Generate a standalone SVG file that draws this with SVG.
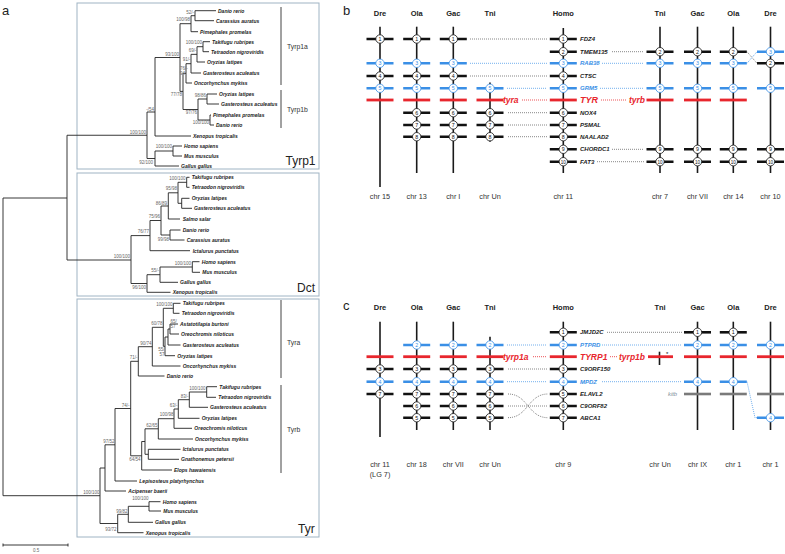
<svg xmlns="http://www.w3.org/2000/svg" width="785" height="554" viewBox="0 0 785 554">
<style>
text{font-family:"Liberation Sans",Arial,sans-serif}
.br{stroke:#222;stroke-width:0.9;fill:none}
.box{fill:none;stroke:#9fb4c4;stroke-width:1}
.sp{font-size:5px;font-weight:bold;font-style:italic;fill:#222}
.bs{font-size:4.5px;fill:#666;text-anchor:end}
.bss{font-size:4.5px;fill:#666}
.cl{font-size:6.8px;fill:#333}
.big{font-size:12px;fill:#222}
.cbar{stroke:#444;stroke-width:1}
.pl{font-size:13px;fill:#222}
.hd{font-size:7.5px;font-weight:bold;fill:#222;text-anchor:middle}
.chl{font-size:7.3px;fill:#333;text-anchor:middle}
.ch{stroke:#1a1a1a;stroke-width:1.6}
.kb{stroke:#111;stroke-width:2.6}
.bb{stroke:#3a8fe6;stroke-width:2.6}
.rb{stroke:#e8262d;stroke-width:2.8}
.gb{stroke:#7a7a7a;stroke-width:2.6}
.ck{fill:#fff;stroke:#111;stroke-width:0.8}
.cb{fill:#fff;stroke:#3a8fe6;stroke-width:0.8}
.nk{font-size:5.3px;fill:#111;text-anchor:middle}
.nb{font-size:5.3px;fill:#3a8fe6;text-anchor:middle}
.gk{font-size:6px;font-weight:bold;font-style:italic;fill:#222}
.gbl{font-size:6px;font-weight:bold;font-style:italic;fill:#3a8fe6}
.gr{font-size:8.5px;font-weight:bold;font-style:italic;fill:#e8262d}
.dk{stroke:#555;stroke-width:0.8;stroke-dasharray:0.9 1.1;fill:none}
.db{stroke:#3a8fe6;stroke-width:0.8;stroke-dasharray:0.9 1.1;fill:none}
.dr{stroke:#e8262d;stroke-width:0.9;stroke-dasharray:0.9 1.1;fill:none}
</style>

<!-- Panel a -->
<text class="pl" x="2" y="15">a</text>
<g id="boxes">
<rect class="box" x="77" y="3" width="242" height="166"/>
<rect class="box" x="77" y="173" width="242" height="123"/>
<rect class="box" x="77" y="299" width="242" height="238"/>
</g>

<g id="tree-root">
<path class="br" d="M3 198V495.7M3 198H67M67 135.25V260M67 135.25H147M67 260H131M3 495.7H100"/>
</g>

<g id="tree-tyrp1">
<path class="br" d="M147 112V158.5M147 112H155M155 57.5V136M155 57.5H180M155 136H191
M180 23.7V91.4M180 23.7H191M180 91.4H183
M191 15.7V31.7M191 15.7H195M191 31.7H198
M195 10.7V20.7M195 10.7H216M195 20.7H214
M183 73.3V109.5M183 73.3H186M183 109.5H198
M186 63.7V83M186 63.7H191M186 83H192
M191 54.35V73M191 54.35H197M191 73H201
M197 46.7V62M197 46.7H203M197 62H205
M203 41.7V51.7M203 41.7H210M203 51.7H209
M198 99V120M198 99H207M198 120H210
M207 94V104M207 94H217M207 104H219
M210 115V125M210 115H211M210 125H214
M147 158.5H155M155 151V166M155 151H173M155 166H179
M173 146V156M173 146H182M173 156H182"/>
<text class="sp" x="218" y="12.5">Danio rerio</text>
<text class="sp" x="216" y="22.5">Carassius auratus</text>
<text class="sp" x="200" y="33.5">Pimephales promelas</text>
<text class="sp" x="212" y="43.5">Takifugu rubripes</text>
<text class="sp" x="211" y="53.5">Tetraodon nigroviridis</text>
<text class="sp" x="207" y="63.8">Oryzias latipes</text>
<text class="sp" x="203" y="74.8">Gasterosteus aculeatus</text>
<text class="sp" x="194" y="84.8">Oncorhynchus mykiss</text>
<text class="sp" x="219" y="95.8">Oryzias latipes</text>
<text class="sp" x="221" y="105.8">Gasterosteus aculeatus</text>
<text class="sp" x="213" y="116.8">Pimephales promelas</text>
<text class="sp" x="216" y="126.8">Danio rerio</text>
<text class="sp" x="193" y="137.8">Xenopus tropicalis</text>
<text class="sp" x="184" y="147.8">Homo sapiens</text>
<text class="sp" x="184" y="157.8">Mus musculus</text>
<text class="sp" x="181" y="167.8">Gallus gallus</text>
<text class="bs" x="194" y="13.5">52/-</text>
<text class="bs" x="190" y="21">100/98</text>
<text class="bs" x="202" y="44">100/100</text>
<text class="bs" x="196.5" y="52">69/-</text>
<text class="bs" x="190.5" y="61">91/-</text>
<text class="bss" x="180" y="69.5">76/-</text>
<text class="bss" x="180" y="75">94</text>
<text class="bs" x="179" y="55.5">93/100</text>
<text class="bs" x="182" y="96">77/78</text>
<text class="bs" x="206" y="97">98/86</text>
<text class="bs" x="197" y="114">97/76</text>
<text class="bs" x="209" y="124">100/100</text>
<text class="bs" x="154" y="110.5">-/54</text>
<text class="bs" x="172" y="148">100/100</text>
<text class="bs" x="153" y="164">92/100</text>
<text class="bs" x="146" y="133.5">100/100</text>
<path class="cbar" d="M281 7V85M281 90V128"/>
<text class="cl" x="287" y="49">Tyrp1a</text>
<text class="cl" x="287" y="112">Tyrp1b</text>
<text class="big" x="285.5" y="165">Tyrp1</text>
</g>

<g id="tree-dct">
<path class="br" d="M131 235.6V283.5M131 235.6H150M131 283.5H147
M150 220.5V250.7M150 220.5H161M150 250.7H190
M161 206V235M161 206H168.3M161 235H170
M168.3 192.8V219M168.3 192.8H178M168.3 219H180
M178 182.3V203.3M178 182.3H186.7M178 203.3H181.7
M186.7 177.3V187.3M186.7 177.3H189.5M186.7 187.3H189.5
M181.7 198.3V208.3M181.7 198.3H189.5M181.7 208.3H192
M170 230V240M170 230H180.5M170 240H184.5
M147 274.7V292.3M147 274.7H160M147 292.3H170.5
M160 267V282.3M160 267H192.3M160 282.3H178
M192.3 261.7V272.3M192.3 261.7H199.5M192.3 272.3H200"/>
<text class="sp" x="191.7" y="179.1">Takifugu rubripes</text>
<text class="sp" x="191.7" y="189.1">Tetraodon nigroviridis</text>
<text class="sp" x="191.7" y="200.1">Oryzias latipes</text>
<text class="sp" x="194" y="210.1">Gasterosteus aculeatus</text>
<text class="sp" x="182.7" y="220.8">Salmo salar</text>
<text class="sp" x="182.7" y="231.8">Danio rerio</text>
<text class="sp" x="186.7" y="241.8">Carassius auratus</text>
<text class="sp" x="192.7" y="252.5">Ictalurus punctatus</text>
<text class="sp" x="201.7" y="263.5">Homo sapiens</text>
<text class="sp" x="202.3" y="274.1">Mus musculus</text>
<text class="sp" x="180" y="284.1">Gallus gallus</text>
<text class="sp" x="172.7" y="294.1">Xenopus tropicalis</text>
<text class="bs" x="185.5" y="180">100/100</text>
<text class="bs" x="177" y="190">95/98</text>
<text class="bs" x="167" y="204.5">86/89</text>
<text class="bs" x="160" y="218">75/96</text>
<text class="bs" x="169" y="241">99/98</text>
<text class="bs" x="149" y="233">76/77</text>
<text class="bs" x="130" y="257.5">100/100</text>
<text class="bs" x="159" y="272">55/-</text>
<text class="bs" x="191" y="264.5">100/100</text>
<text class="bs" x="146" y="289">96/100</text>
<text class="big" x="297" y="292">Dct</text>
</g>

<g id="tree-tyr">
<path class="br" d="M100 468V523.5M100 468H105M100 523.5H117.7
M105 444.8V491M105 444.8H115M105 491H126
M115 408.5V481M115 408.5H130.7M115 481H137
M130.7 361.3V455.8M130.7 361.3H138.3M130.7 455.8H141.7
M138.3 346.7V376M138.3 346.7H152.3M138.3 376H164.5
M152.3 327.3V366M152.3 327.3H163.3M152.3 366H180.5
M163.3 308.3V346.3M163.3 308.3H173.3M163.3 346.3H165
M165 337V355.7M165 337H168M165 355.7H175
M168 329V345M168 329H170M168 345H180.5
M170 324V334M170 324H178M170 334H179
M173.3 303.3V313.3M173.3 303.3H180.5M173.3 313.3H179.5
M141.7 441.5V470M141.7 441.5H145M141.7 470H172
M145 428.8V454.3M145 428.8H158.3M145 454.3H148.3
M148.3 449.3V459.3M148.3 449.3H180.5M148.3 459.3H179
M158.3 418.7V439M158.3 418.7H174M158.3 439H193
M174 409V428.3M174 409H178.3M174 428.3H192
M178.3 399.7V418.3M178.3 399.7H189.3M178.3 418.3H199.5
M189.3 392V407.3M189.3 392H206.7M189.3 407.3H208
M206.7 386.7V397.3M206.7 386.7H217M206.7 397.3H216
M117.7 514.3V532.7M117.7 514.3H128.3M117.7 532.7H143.5
M128.3 506.3V522.3M128.3 506.3H149M128.3 522.3H153
M149 501.7V511M149 501.7H160.5M149 511H161"/>
<text class="sp" x="182.7" y="305.1">Takifugu rubripes</text>
<text class="sp" x="181.7" y="315.1">Tetraodon nigroviridis</text>
<text class="sp" x="180" y="325.8">Astatotilapia burtoni</text>
<text class="sp" x="181" y="335.8">Oreochromis niloticus</text>
<text class="sp" x="182.7" y="346.8">Gasterosteus aculeatus</text>
<text class="sp" x="177.3" y="357.5">Oryzias latipes</text>
<text class="sp" x="182.7" y="367.8">Oncorhynchus mykiss</text>
<text class="sp" x="166.7" y="377.8">Danio rerio</text>
<text class="sp" x="219.3" y="388.5">Takifugu rubripes</text>
<text class="sp" x="218.3" y="399.1">Tetraodon nigroviridis</text>
<text class="sp" x="210" y="409.1">Gasterosteus aculeatus</text>
<text class="sp" x="201.7" y="420.1">Oryzias latipes</text>
<text class="sp" x="194.3" y="430.1">Oreochromis niloticus</text>
<text class="sp" x="195" y="440.8">Oncorhynchus mykiss</text>
<text class="sp" x="182.7" y="451.1">Ictalurus punctatus</text>
<text class="sp" x="181" y="461.1">Gnathonemus petersii</text>
<text class="sp" x="174" y="471.8">Elops hawaiensis</text>
<text class="sp" x="139.3" y="482.8">Lepisosteus platyrhynchus</text>
<text class="sp" x="128.3" y="492.8">Acipenser baerii</text>
<text class="sp" x="162.7" y="503.5">Homo sapiens</text>
<text class="sp" x="163.3" y="512.8">Mus musculus</text>
<text class="sp" x="155" y="524.1">Gallus gallus</text>
<text class="sp" x="145.7" y="534.5">Xenopus tropicalis</text>
<text class="bs" x="172.5" y="305.5">100/100</text>
<text class="bss" x="170.5" y="322.8">65/</text>
<text class="bss" x="170.5" y="328.3">57</text>
<text class="bs" x="162.5" y="325">60/78</text>
<text class="bs" x="164.5" y="350.5">55/</text>
<text class="bs" x="164.5" y="355.5">57</text>
<text class="bs" x="151.5" y="344.5">90/74</text>
<text class="bs" x="137.5" y="358.5">71/-</text>
<text class="bs" x="129.5" y="406.5">74/-</text>
<text class="bs" x="205.5" y="390">100/100</text>
<text class="bs" x="188.5" y="398">83/-</text>
<text class="bs" x="177.5" y="406.5">63/-</text>
<text class="bs" x="173.5" y="415.5">100/98</text>
<text class="bs" x="157.5" y="427">62/65</text>
<text class="bs" x="140.5" y="461">64/54</text>
<text class="bs" x="114.5" y="442.5">97/52</text>
<text class="bs" x="99.5" y="494">100/100</text>
<text class="bs" x="127.5" y="512.5">99/82</text>
<text class="bs" x="148.5" y="500">100/100</text>
<text class="bs" x="116.5" y="530.5">93/72</text>
<path class="cbar" d="M281 300V378M281 385V473"/>
<text class="cl" x="287" y="345">Tyra</text>
<text class="cl" x="287" y="432">Tyrb</text>
<text class="big" x="298" y="533">Tyr</text>
</g>

<g id="scale">
<path class="br" d="M3 545H68M3 543.5V546.5M68 543.5V546.5"/>
<text class="bss" x="33" y="552">0.5</text>
</g>

<!-- Panel b -->
<text class="pl" x="343" y="15">b</text>
<g id="b-headers">
<text class="hd" x="380" y="16">Dre</text>
<text class="hd" x="416.7" y="16">Ola</text>
<text class="hd" x="453.3" y="16">Gac</text>
<text class="hd" x="490" y="16">Tni</text>
<text class="hd" x="563.3" y="16">Homo</text>
<text class="hd" x="660" y="16">Tni</text>
<text class="hd" x="697.5" y="16">Gac</text>
<text class="hd" x="733.3" y="16">Ola</text>
<text class="hd" x="770.5" y="16">Dre</text>
</g>

<g id="b-connectors">
<path class="dk" d="M470 39H547M470 76H547M508 112.7H547M508 125H547M508 136.7H547M612 51.7H644M612 149.3H644M597 161.7H644M747 51.7L757 63.3"/>
<path class="db" d="M470 63.3H547M602 63.3H644M507 88.3H547M600 88.3H644M747 63.3L757 51.7"/>
<path class="dr" d="M522 100H547M601 100H626"/>
</g>

<g id="b-dre15">
<path class="ch" d="M380 26.7V187"/>
<path class="kb" d="M366.5 39H393.5M366.5 76H393.5"/>
<path class="bb" d="M366.5 63.3H393.5M366.5 88.3H393.5"/>
<path class="rb" d="M366.5 100H393.5"/>
<circle class="ck" cx="380" cy="39" r="4.2"/><text class="nk" x="380" y="40.95">1</text>
<circle class="cb" cx="380" cy="63.3" r="4.2"/><text class="nb" x="380" y="65.25">3</text>
<circle class="ck" cx="380" cy="76" r="4.2"/><text class="nk" x="380" y="77.95">4</text>
<circle class="cb" cx="380" cy="88.3" r="4.2"/><text class="nb" x="380" y="90.25">5</text>
<text class="chl" x="380" y="199">chr 15</text>
</g>

<g id="b-ola13">
<path class="ch" d="M416.7 26.7V173"/>
<path class="kb" d="M403.2 39H430.2M403.2 76H430.2M403.2 112.7H430.2M403.2 125H430.2M403.2 136.7H430.2"/>
<path class="bb" d="M403.2 63.3H430.2M403.2 88.3H430.2"/>
<path class="rb" d="M403.2 100H430.2"/>
<circle class="ck" cx="416.7" cy="39" r="4.2"/><text class="nk" x="416.7" y="40.95">1</text>
<circle class="cb" cx="416.7" cy="63.3" r="4.2"/><text class="nb" x="416.7" y="65.25">3</text>
<circle class="ck" cx="416.7" cy="76" r="4.2"/><text class="nk" x="416.7" y="77.95">4</text>
<circle class="cb" cx="416.7" cy="88.3" r="4.2"/><text class="nb" x="416.7" y="90.25">5</text>
<circle class="ck" cx="416.7" cy="112.7" r="4.2"/><text class="nk" x="416.7" y="114.65">6</text>
<circle class="ck" cx="416.7" cy="125" r="4.2"/><text class="nk" x="416.7" y="126.95">7</text>
<circle class="ck" cx="416.7" cy="136.7" r="4.2"/><text class="nk" x="416.7" y="138.65">8</text>
<text class="chl" x="416.7" y="199">chr 13</text>
</g>

<g id="b-gacI">
<path class="ch" d="M453.3 26.7V173"/>
<path class="kb" d="M439.8 39H466.8M439.8 76H466.8M439.8 112.7H466.8M439.8 125H466.8M439.8 136.7H466.8"/>
<path class="bb" d="M439.8 63.3H466.8M439.8 88.3H466.8"/>
<path class="rb" d="M439.8 100H466.8"/>
<circle class="ck" cx="453.3" cy="39" r="4.2"/><text class="nk" x="453.3" y="40.95">1</text>
<circle class="cb" cx="453.3" cy="63.3" r="4.2"/><text class="nb" x="453.3" y="65.25">3</text>
<circle class="ck" cx="453.3" cy="76" r="4.2"/><text class="nk" x="453.3" y="77.95">4</text>
<circle class="cb" cx="453.3" cy="88.3" r="4.2"/><text class="nb" x="453.3" y="90.25">5</text>
<circle class="ck" cx="453.3" cy="112.7" r="4.2"/><text class="nk" x="453.3" y="114.65">6</text>
<circle class="ck" cx="453.3" cy="125" r="4.2"/><text class="nk" x="453.3" y="126.95">7</text>
<circle class="ck" cx="453.3" cy="136.7" r="4.2"/><text class="nk" x="453.3" y="138.65">8</text>
<text class="chl" x="453.3" y="199">chr I</text>
</g>

<g id="b-tniUn">
<path class="ch" d="M490 82.5V141.7"/>
<path class="kb" d="M476.5 112.7H503.5M476.5 125H503.5M476.5 136.7H503.5"/>
<path class="bb" d="M476.5 88.3H503.5"/>
<path class="rb" d="M476.5 100H503.5"/>
<circle class="cb" cx="490" cy="88.3" r="4.2"/><text class="nb" x="490" y="90.25">5</text>
<circle class="ck" cx="490" cy="112.7" r="4.2"/><text class="nk" x="490" y="114.65">6</text>
<circle class="ck" cx="490" cy="125" r="4.2"/><text class="nk" x="490" y="126.95">7</text>
<circle class="ck" cx="490" cy="136.7" r="4.2"/><text class="nk" x="490" y="138.65">8</text>
<text class="gr" x="503" y="103">tyra</text>
<text class="chl" x="490" y="199">chr Un</text>
</g>

<g id="b-homo11">
<path class="ch" d="M563.3 28V173"/>
<path class="kb" d="M549.8 39H576.8M549.8 51.7H576.8M549.8 76H576.8M549.8 112.7H576.8M549.8 125H576.8M549.8 136.7H576.8M549.8 149.3H576.8M549.8 161.7H576.8"/>
<path class="bb" d="M549.8 63.3H576.8M549.8 88.3H576.8"/>
<path class="rb" d="M549.8 100H576.8"/>
<circle class="ck" cx="563.3" cy="39" r="4.2"/><text class="nk" x="563.3" y="40.95">1</text>
<circle class="ck" cx="563.3" cy="51.7" r="4.2"/><text class="nk" x="563.3" y="53.65">2</text>
<circle class="cb" cx="563.3" cy="63.3" r="4.2"/><text class="nb" x="563.3" y="65.25">3</text>
<circle class="ck" cx="563.3" cy="76" r="4.2"/><text class="nk" x="563.3" y="77.95">4</text>
<circle class="cb" cx="563.3" cy="88.3" r="4.2"/><text class="nb" x="563.3" y="90.25">5</text>
<circle class="ck" cx="563.3" cy="112.7" r="4.2"/><text class="nk" x="563.3" y="114.65">6</text>
<circle class="ck" cx="563.3" cy="125" r="4.2"/><text class="nk" x="563.3" y="126.95">7</text>
<circle class="ck" cx="563.3" cy="136.7" r="4.2"/><text class="nk" x="563.3" y="138.65">8</text>
<circle class="ck" cx="563.3" cy="149.3" r="4.2"/><text class="nk" x="563.3" y="151.25">9</text>
<circle class="ck" cx="563.3" cy="161.7" r="4.2"/><text class="nk" x="563.3" y="163.5" style="font-size:4.6px">10</text>
<text class="gk" x="580" y="41.1">FDZ4</text>
<text class="gk" x="580" y="53.8">TMEM135</text>
<text class="gbl" x="580" y="65.4">RAB38</text>
<text class="gk" x="580" y="78.1">CTSC</text>
<text class="gbl" x="580" y="90.4">GRM5</text>
<text class="gr" x="580" y="103.2" style="font-size:9px">TYR</text>
<text class="gk" x="580" y="114.8">NOX4</text>
<text class="gk" x="580" y="127.1">PSMAL</text>
<text class="gk" x="580" y="138.8">NAALAD2</text>
<text class="gk" x="580" y="151.4">CHORDC1</text>
<text class="gk" x="580" y="163.8">FAT3</text>
<text class="gr" x="645" y="103" text-anchor="end">tyrb</text>
<text class="chl" x="563.3" y="199">chr 11</text>
</g>

<g id="b-tni7">
<path class="ch" d="M660 26.7V173"/>
<path class="kb" d="M646.5 51.7H673.5M646.5 149.3H673.5M646.5 161.7H673.5"/>
<path class="bb" d="M646.5 63.3H673.5M646.5 88.3H673.5"/>
<path class="rb" d="M646.5 100H673.5"/>
<circle class="ck" cx="660" cy="51.7" r="4.2"/><text class="nk" x="660" y="53.65">2</text>
<circle class="cb" cx="660" cy="63.3" r="4.2"/><text class="nb" x="660" y="65.25">3</text>
<circle class="cb" cx="660" cy="88.3" r="4.2"/><text class="nb" x="660" y="90.25">5</text>
<circle class="ck" cx="660" cy="149.3" r="4.2"/><text class="nk" x="660" y="151.25">9</text>
<circle class="ck" cx="660" cy="161.7" r="4.2"/><text class="nk" x="660" y="163.5" style="font-size:4.6px">10</text>
<text class="chl" x="660" y="199">chr 7</text>
</g>

<g id="b-gacVII">
<path class="ch" d="M697.5 26.7V173"/>
<path class="kb" d="M684 51.7H711M684 149.3H711M684 161.7H711"/>
<path class="bb" d="M684 63.3H711M684 88.3H711"/>
<path class="rb" d="M684 100H711"/>
<circle class="ck" cx="697.5" cy="51.7" r="4.2"/><text class="nk" x="697.5" y="53.65">2</text>
<circle class="cb" cx="697.5" cy="63.3" r="4.2"/><text class="nb" x="697.5" y="65.25">3</text>
<circle class="cb" cx="697.5" cy="88.3" r="4.2"/><text class="nb" x="697.5" y="90.25">5</text>
<circle class="ck" cx="697.5" cy="149.3" r="4.2"/><text class="nk" x="697.5" y="151.25">9</text>
<circle class="ck" cx="697.5" cy="161.7" r="4.2"/><text class="nk" x="697.5" y="163.5" style="font-size:4.6px">10</text>
<text class="chl" x="697.5" y="199">chr VII</text>
</g>

<g id="b-ola14">
<path class="ch" d="M733.3 26.7V173"/>
<path class="kb" d="M719.8 51.7H746.8M719.8 149.3H746.8M719.8 161.7H746.8"/>
<path class="bb" d="M719.8 63.3H746.8M719.8 88.3H746.8"/>
<path class="rb" d="M719.8 100H746.8"/>
<circle class="ck" cx="733.3" cy="51.7" r="4.2"/><text class="nk" x="733.3" y="53.65">2</text>
<circle class="cb" cx="733.3" cy="63.3" r="4.2"/><text class="nb" x="733.3" y="65.25">3</text>
<circle class="cb" cx="733.3" cy="88.3" r="4.2"/><text class="nb" x="733.3" y="90.25">5</text>
<circle class="ck" cx="733.3" cy="149.3" r="4.2"/><text class="nk" x="733.3" y="151.25">9</text>
<circle class="ck" cx="733.3" cy="161.7" r="4.2"/><text class="nk" x="733.3" y="163.5" style="font-size:4.6px">10</text>
<text class="chl" x="733.3" y="199">chr 14</text>
</g>

<g id="b-dre10">
<path class="ch" d="M770.5 26.7V173"/>
<path class="kb" d="M757 63.3H784M757 149.3H784M757 161.7H784"/>
<path class="bb" d="M757 51.7H784M757 88.3H784"/>
<circle class="cb" cx="770.5" cy="51.7" r="4.2"/><text class="nb" x="770.5" y="53.65">3</text>
<circle class="ck" cx="770.5" cy="63.3" r="4.2"/><text class="nk" x="770.5" y="65.25">2</text>
<circle class="cb" cx="770.5" cy="88.3" r="4.2"/><text class="nb" x="770.5" y="90.25">5</text>
<circle class="ck" cx="770.5" cy="149.3" r="4.2"/><text class="nk" x="770.5" y="151.25">9</text>
<circle class="ck" cx="770.5" cy="161.7" r="4.2"/><text class="nk" x="770.5" y="163.5" style="font-size:4.6px">10</text>
<text class="chl" x="770.5" y="199">chr 10</text>
</g>

<!-- Panel c -->
<text class="pl" x="343" y="309.5">c</text>
<g id="c-headers">
<text class="hd" x="380" y="310">Dre</text>
<text class="hd" x="416.7" y="310">Ola</text>
<text class="hd" x="453.3" y="310">Gac</text>
<text class="hd" x="490" y="310">Tni</text>
<text class="hd" x="563.3" y="310">Homo</text>
<text class="hd" x="660" y="310">Tni</text>
<text class="hd" x="697.5" y="310">Gac</text>
<text class="hd" x="733.3" y="310">Ola</text>
<text class="hd" x="770.5" y="310">Dre</text>
</g>

<g id="c-connectors">
<path class="dk" d="M607 332.3H682M508 369H547M508 394C528 394 528 417.7 548 417.7M508 406H548M508 417.7C528 417.7 528 394 548 394"/>
<path class="db" d="M507 345H547M602 345H682M507 381.7H547M602 381.7H682M747 381.7L755 417.7H757"/>
<path class="dr" d="M533 356.7H547M610 356.7H617"/>
</g>

<g id="c-dre11">
<path class="ch" d="M380 321.7V437"/>
<path class="rb" d="M366.5 356.7H393.5"/>
<path class="kb" d="M366.5 369H393.5M366.5 394H393.5"/>
<path class="bb" d="M366.5 381.7H393.5"/>
<circle class="ck" cx="380" cy="369" r="4.2"/><text class="nk" x="380" y="370.95">3</text>
<circle class="cb" cx="380" cy="381.7" r="4.2"/><text class="nb" x="380" y="383.65">4</text>
<circle class="ck" cx="380" cy="394" r="4.2"/><text class="nk" x="380" y="395.95">7</text>
<text class="chl" x="380" y="467">chr 11</text>
<text class="chl" x="380" y="477">(LG 7)</text>
</g>

<g id="c-ola18">
<path class="ch" d="M416.7 321.7V430"/>
<path class="bb" d="M403.2 345H430.2M403.2 381.7H430.2"/>
<path class="rb" d="M403.2 356.7H430.2"/>
<path class="kb" d="M403.2 369H430.2M403.2 394H430.2M403.2 406H430.2M403.2 417.7H430.2"/>
<circle class="cb" cx="416.7" cy="345" r="4.2"/><text class="nb" x="416.7" y="346.95">2</text>
<circle class="ck" cx="416.7" cy="369" r="4.2"/><text class="nk" x="416.7" y="370.95">3</text>
<circle class="cb" cx="416.7" cy="381.7" r="4.2"/><text class="nb" x="416.7" y="383.65">4</text>
<circle class="ck" cx="416.7" cy="394" r="4.2"/><text class="nk" x="416.7" y="395.95">7</text>
<circle class="ck" cx="416.7" cy="406" r="4.2"/><text class="nk" x="416.7" y="407.95">6</text>
<circle class="ck" cx="416.7" cy="417.7" r="4.2"/><text class="nk" x="416.7" y="419.65">5</text>
<text class="chl" x="416.7" y="467">chr 18</text>
</g>

<g id="c-gacVII">
<path class="ch" d="M453.3 321.7V430"/>
<path class="bb" d="M439.8 345H466.8M439.8 381.7H466.8"/>
<path class="rb" d="M439.8 356.7H466.8"/>
<path class="kb" d="M439.8 369H466.8M439.8 394H466.8M439.8 406H466.8M439.8 417.7H466.8"/>
<circle class="cb" cx="453.3" cy="345" r="4.2"/><text class="nb" x="453.3" y="346.95">2</text>
<circle class="ck" cx="453.3" cy="369" r="4.2"/><text class="nk" x="453.3" y="370.95">3</text>
<circle class="cb" cx="453.3" cy="381.7" r="4.2"/><text class="nb" x="453.3" y="383.65">4</text>
<circle class="ck" cx="453.3" cy="394" r="4.2"/><text class="nk" x="453.3" y="395.95">7</text>
<circle class="ck" cx="453.3" cy="406" r="4.2"/><text class="nk" x="453.3" y="407.95">6</text>
<circle class="ck" cx="453.3" cy="417.7" r="4.2"/><text class="nk" x="453.3" y="419.65">5</text>
<text class="chl" x="453.3" y="467">chr VII</text>
</g>

<g id="c-tniUn">
<path class="ch" d="M490 336.7V430"/>
<path class="bb" d="M476.5 345H503.5M476.5 381.7H503.5"/>
<path class="rb" d="M476.5 356.7H503.5"/>
<path class="kb" d="M476.5 369H503.5M476.5 394H503.5M476.5 406H503.5M476.5 417.7H503.5"/>
<circle class="cb" cx="490" cy="345" r="4.2"/><text class="nb" x="490" y="346.95">2</text>
<circle class="ck" cx="490" cy="369" r="4.2"/><text class="nk" x="490" y="370.95">3</text>
<circle class="cb" cx="490" cy="381.7" r="4.2"/><text class="nb" x="490" y="383.65">4</text>
<circle class="ck" cx="490" cy="394" r="4.2"/><text class="nk" x="490" y="395.95">7</text>
<circle class="ck" cx="490" cy="406" r="4.2"/><text class="nk" x="490" y="407.95">6</text>
<circle class="ck" cx="490" cy="417.7" r="4.2"/><text class="nk" x="490" y="419.65">5</text>
<text class="gr" x="503" y="359.7">tyrp1a</text>
<text class="chl" x="490" y="467">chr Un</text>
</g>

<g id="c-homo9">
<path class="ch" d="M563.3 321.7V430"/>
<path class="bb" d="M549.8 345H576.8M549.8 381.7H576.8"/>
<path class="rb" d="M549.8 356.7H576.8"/>
<path class="kb" d="M549.8 332.3H576.8M549.8 369H576.8M549.8 394H576.8M549.8 406H576.8M549.8 417.7H576.8"/>
<circle class="ck" cx="563.3" cy="332.3" r="4.2"/><text class="nk" x="563.3" y="334.25">1</text>
<circle class="cb" cx="563.3" cy="345" r="4.2"/><text class="nb" x="563.3" y="346.95">2</text>
<circle class="ck" cx="563.3" cy="369" r="4.2"/><text class="nk" x="563.3" y="370.95">3</text>
<circle class="cb" cx="563.3" cy="381.7" r="4.2"/><text class="nb" x="563.3" y="383.65">4</text>
<circle class="ck" cx="563.3" cy="394" r="4.2"/><text class="nk" x="563.3" y="395.95">5</text>
<circle class="ck" cx="563.3" cy="406" r="4.2"/><text class="nk" x="563.3" y="407.95">6</text>
<circle class="ck" cx="563.3" cy="417.7" r="4.2"/><text class="nk" x="563.3" y="419.65">7</text>
<text class="gk" x="580" y="334.4">JMJD2C</text>
<text class="gbl" x="580" y="347.1">PTPRD</text>
<text class="gr" x="580" y="359.7">TYRP1</text>
<text class="gk" x="580" y="371.1">C9ORF150</text>
<text class="gbl" x="580" y="383.8">MPDZ</text>
<text class="gk" x="580" y="396.1">ELAVL2</text>
<text class="gk" x="580" y="408.1">C9ORF82</text>
<text class="gk" x="580" y="419.8">ABCA1</text>
<text class="gr" x="645" y="359.7" text-anchor="end">tyrp1b</text>
<text class="chl" x="563.3" y="467">chr 9</text>
</g>

<g id="c-tniUn2">
<path class="ch" d="M659.5 351.7V365"/>
<path class="rb" d="M648 356.7H673"/>
<text x="666" y="355.5" style="font-size:6px;fill:#111">*</text>
<text class="chl" x="660" y="467">chr Un</text>
</g>

<g id="c-gacIX">
<path class="ch" d="M697.5 321.7V430"/>
<path class="kb" d="M684 332.3H711"/>
<path class="bb" d="M684 345H711M684 381.7H711"/>
<path class="rb" d="M684 356.7H711"/>
<path class="gb" d="M684 394H711"/>
<circle class="ck" cx="697.5" cy="332.3" r="4.2"/><text class="nk" x="697.5" y="334.25">1</text>
<circle class="cb" cx="697.5" cy="345" r="4.2"/><text class="nb" x="697.5" y="346.95">2</text>
<circle class="cb" cx="697.5" cy="381.7" r="4.2"/><text class="nb" x="697.5" y="383.65">4</text>
<text x="668" y="396.2" style="font-size:5.8px;font-style:italic;fill:#7a8a96">kitb</text>
<text class="chl" x="697.5" y="467">chr IX</text>
</g>

<g id="c-ola1">
<path class="ch" d="M733.3 321.7V430"/>
<path class="kb" d="M719.8 332.3H746.8"/>
<path class="bb" d="M719.8 345H746.8M719.8 381.7H746.8"/>
<path class="rb" d="M719.8 356.7H746.8"/>
<path class="gb" d="M719.8 394H746.8"/>
<circle class="ck" cx="733.3" cy="332.3" r="4.2"/><text class="nk" x="733.3" y="334.25">1</text>
<circle class="cb" cx="733.3" cy="345" r="4.2"/><text class="nb" x="733.3" y="346.95">2</text>
<circle class="cb" cx="733.3" cy="381.7" r="4.2"/><text class="nb" x="733.3" y="383.65">4</text>
<text class="chl" x="733.3" y="467">chr 1</text>
</g>

<g id="c-dre1">
<path class="ch" d="M770.5 321.7V430"/>
<path class="bb" d="M757 345H784M757 417.7H784"/>
<path class="rb" d="M757 356.7H784"/>
<path class="gb" d="M757 394H784"/>
<circle class="cb" cx="770.5" cy="345" r="4.2"/><text class="nb" x="770.5" y="346.95">2</text>
<circle class="cb" cx="770.5" cy="417.7" r="4.2"/><text class="nb" x="770.5" y="419.65">4</text>
<text class="chl" x="770.5" y="467">chr 1</text>
</g>
</svg>
